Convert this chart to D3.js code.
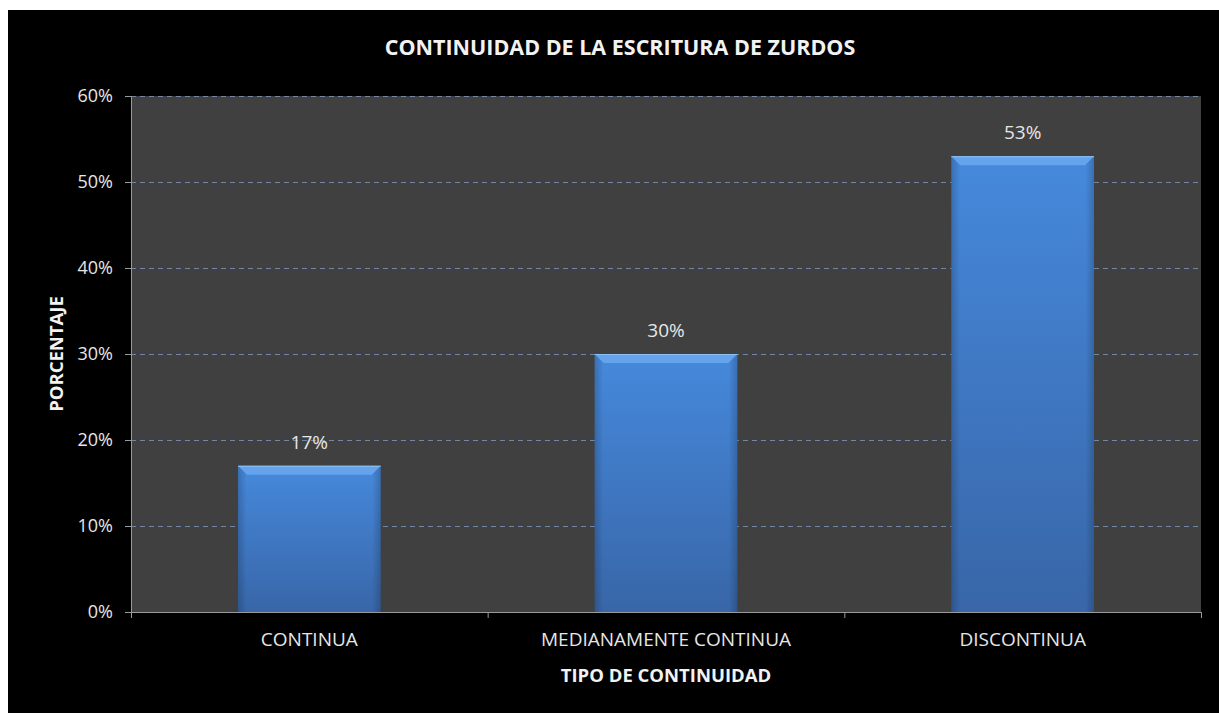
<!DOCTYPE html>
<html>
<head>
<meta charset="utf-8">
<script src="https://cdn.jsdelivr.net/npm/d3@7"></script>
<style>
  html,body{margin:0;padding:0;background:#fff;}
  svg{display:block;}
</style>
</head>
<body>
<div id="chart"></div>
<script>
// data
var categories=['CONTINUA','MEDIANAMENTE CONTINUA','DISCONTINUA'];
var values=[17,30,53];
var yTicks=[0,10,20,30,40,50,60];

var W=1219,H=713;
var F='"Open Sans",sans-serif';
var plot={l:131,t:96,r:1201,b:612};

var svg=d3.select('#chart').append('svg').attr('width',W).attr('height',H);

// black chart background
svg.append('rect').attr('x',8).attr('y',10).attr('width',W-8).attr('height',H-10).attr('fill','#000');

var x=d3.scaleBand().domain(categories).range([plot.l,plot.r]).paddingInner(0.6).paddingOuter(0.3);
var xb=d3.scaleBand().domain(categories).range([plot.l,plot.r]);
var y=d3.scaleLinear().domain([0,60]).range([plot.b,plot.t]);

// plot area
svg.append('rect').attr('x',plot.l).attr('y',plot.t).attr('width',plot.r-plot.l).attr('height',plot.b-plot.t).attr('fill','#404040');

// gridlines
svg.append('g').selectAll('line').data(yTicks.filter(function(d){return d>0})).enter().append('line')
  .attr('x1',plot.l).attr('x2',plot.r).attr('y1',function(d){return y(d)+0.5}).attr('y2',function(d){return y(d)+0.5})
  .attr('stroke','#6f86a6').attr('stroke-width',1).attr('stroke-dasharray','5 4');

// bar gradients
var defs=svg.append('defs');
var g1=defs.append('linearGradient').attr('id','barg').attr('x1',0).attr('y1',0).attr('x2',0).attr('y2',1);
g1.append('stop').attr('offset','0%').attr('stop-color','#4689dc');
g1.append('stop').attr('offset','100%').attr('stop-color','#3866a8');
var g2=defs.append('linearGradient').attr('id','sideg').attr('x1',0).attr('y1',0).attr('x2',1).attr('y2',0);
g2.append('stop').attr('offset','0%').attr('stop-color','#000').attr('stop-opacity',0.18);
g2.append('stop').attr('offset','6%').attr('stop-color','#000').attr('stop-opacity',0);
g2.append('stop').attr('offset','94%').attr('stop-color','#000').attr('stop-opacity',0);
g2.append('stop').attr('offset','100%').attr('stop-color','#000').attr('stop-opacity',0.18);

var bars=svg.append('g').selectAll('g').data(categories).enter().append('g');
bars.append('rect').attr('x',function(d){return x(d)}).attr('y',function(d,i){return y(values[i])})
  .attr('width',x.bandwidth()).attr('height',function(d,i){return plot.b-y(values[i])}).attr('fill','url(#barg)');
bars.append('rect').attr('x',function(d){return x(d)}).attr('y',function(d,i){return y(values[i])})
  .attr('width',x.bandwidth()).attr('height',function(d,i){return plot.b-y(values[i])}).attr('fill','url(#sideg)');
// top bevel
bars.append('path').attr('d',function(d,i){
  var x0=x(d),x1=x(d)+x.bandwidth(),t=y(values[i]),bv=9;
  return 'M'+x0+','+t+'L'+x1+','+t+'L'+(x1-bv)+','+(t+bv)+'L'+(x0+bv)+','+(t+bv)+'Z';
}).attr('fill','#65a4ec');
bars.append('line').attr('x1',function(d){return x(d)}).attr('x2',function(d){return x(d)+x.bandwidth()})
  .attr('y1',function(d,i){return y(values[i])+0.5}).attr('y2',function(d,i){return y(values[i])+0.5})
  .attr('stroke','#8cc0f5').attr('stroke-width',1);

// value labels
bars.append('text').attr('x',function(d){return x(d)+x.bandwidth()/2}).attr('y',function(d,i){return y(values[i])-17})
  .attr('text-anchor','middle').attr('font-family',F).attr('font-size',19).attr('fill','#e6e6e6')
  .text(function(d,i){return values[i]+'%'});

// y axis
var ya=svg.append('g').attr('transform','translate('+plot.l+',0)')
  .call(d3.axisLeft(y).tickValues(yTicks).tickFormat(function(d){return d+'%'}).tickSize(6).tickPadding(12));
ya.select('.domain').attr('stroke','#9a9a9a').attr('d','M0.5,'+plot.t+'V'+(plot.b+6));
ya.selectAll('.tick line').attr('stroke','#9a9a9a');
ya.selectAll('.tick text').attr('font-family',F).attr('font-size',18).attr('fill','#e6e6e6');

// x axis
var xa=svg.append('g').attr('transform','translate(0,'+plot.b+')')
  .call(d3.axisBottom(xb).tickSize(0).tickPadding(21));
xa.select('.domain').attr('stroke','#9a9a9a').attr('d','M'+plot.l+',0.5H'+plot.r);
xa.selectAll('.tick text').attr('font-family',F).attr('font-size',19).attr('fill','#e6e6e6');
// category separators
svg.append('g').selectAll('line').data(categories).enter().append('line')
  .attr('x1',function(d){return xb(d)+xb.bandwidth()+0.5}).attr('x2',function(d){return xb(d)+xb.bandwidth()+0.5})
  .attr('y1',plot.b).attr('y2',plot.b+6).attr('stroke','#9a9a9a');

// titles
svg.append('text').attr('x',620).attr('y',55).attr('text-anchor','middle').attr('font-family',F)
  .attr('font-size',21.5).attr('font-weight','bold').attr('fill','#f2f2f2').text('CONTINUIDAD DE LA ESCRITURA DE ZURDOS');
svg.append('text').attr('x',666).attr('y',682).attr('text-anchor','middle').attr('font-family',F)
  .attr('font-size',18.5).attr('font-weight','bold').attr('fill','#f2f2f2').text('TIPO DE CONTINUIDAD');
svg.append('text').attr('transform','translate(63,354) rotate(-90)').attr('text-anchor','middle').attr('font-family',F)
  .attr('font-size',18.5).attr('font-weight','bold').attr('fill','#f2f2f2').text('PORCENTAJE');
</script>
</body>
</html>
